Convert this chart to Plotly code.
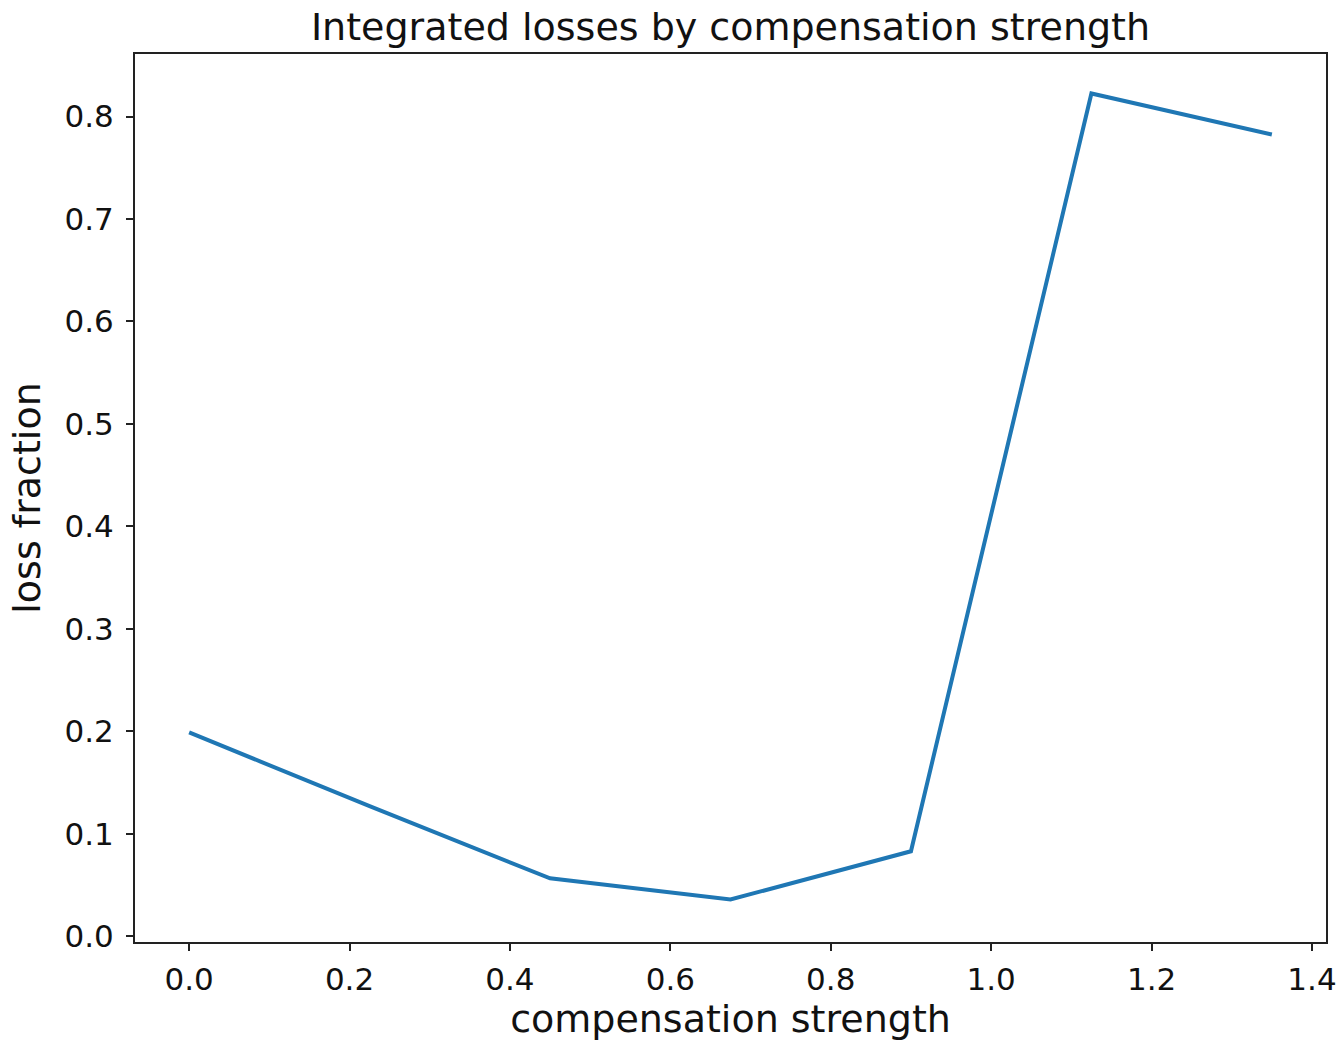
import plotly.graph_objects as go

# Compensation strength sweep and the integrated loss fraction at each step
compensation_strength = [0.0, 0.225, 0.45, 0.675, 0.9, 1.125, 1.35]
loss_fraction = [0.199, 0.127, 0.0566, 0.036, 0.083, 0.8225, 0.7824]

x_ticks = [0.0, 0.2, 0.4, 0.6, 0.8, 1.0, 1.2, 1.4]
y_ticks = [0.0, 0.1, 0.2, 0.3, 0.4, 0.5, 0.6, 0.7, 0.8]

FONT = "DejaVu Sans"
LINE_BLUE = "#1f77b4"
TEXT = "#111111"

fig = go.Figure()
fig.add_trace(go.Scatter(
    x=compensation_strength,
    y=loss_fraction,
    mode="lines",
    line=dict(color=LINE_BLUE, width=4),
    showlegend=False,
))

axis_common = dict(
    showgrid=False,
    zeroline=False,
    showline=True,
    mirror=True,
    linecolor="#222222",
    linewidth=2,
    ticks="outside",
    ticklen=7,
    tickwidth=2,
    tickcolor="#222222",
    tickfont=dict(family=FONT, size=31, color=TEXT),
    automargin=False,
)

fig.update_xaxes(
    range=[-0.0675, 1.4175],
    tickvals=x_ticks,
    ticktext=[f"{v:.1f}" for v in x_ticks],
    title=dict(text="compensation strength", font=dict(family=FONT, size=38, color=TEXT), standoff=6),
    ticklabelstandoff=2,
    **axis_common,
)
fig.update_yaxes(
    range=[-0.0055, 0.861],
    tickvals=y_ticks,
    ticktext=[f"{v:.1f}" for v in y_ticks],
    title=dict(text="loss fraction", font=dict(family=FONT, size=38, color=TEXT), standoff=12),
    ticklabelstandoff=6,
    **axis_common,
)

fig.update_layout(
    width=1342,
    height=1043,
    margin=dict(l=135, r=16, t=54, b=101),
    paper_bgcolor="white",
    plot_bgcolor="white",
    font=dict(family=FONT, color=TEXT),
    title=dict(
        text="Integrated losses by compensation strength",
        font=dict(family=FONT, size=38, color=TEXT),
        x=0.5, xref="paper", xanchor="center",
        y=1, yref="paper", yanchor="bottom",
        pad=dict(b=14),
    ),
)

fig.write_html("out.html")
